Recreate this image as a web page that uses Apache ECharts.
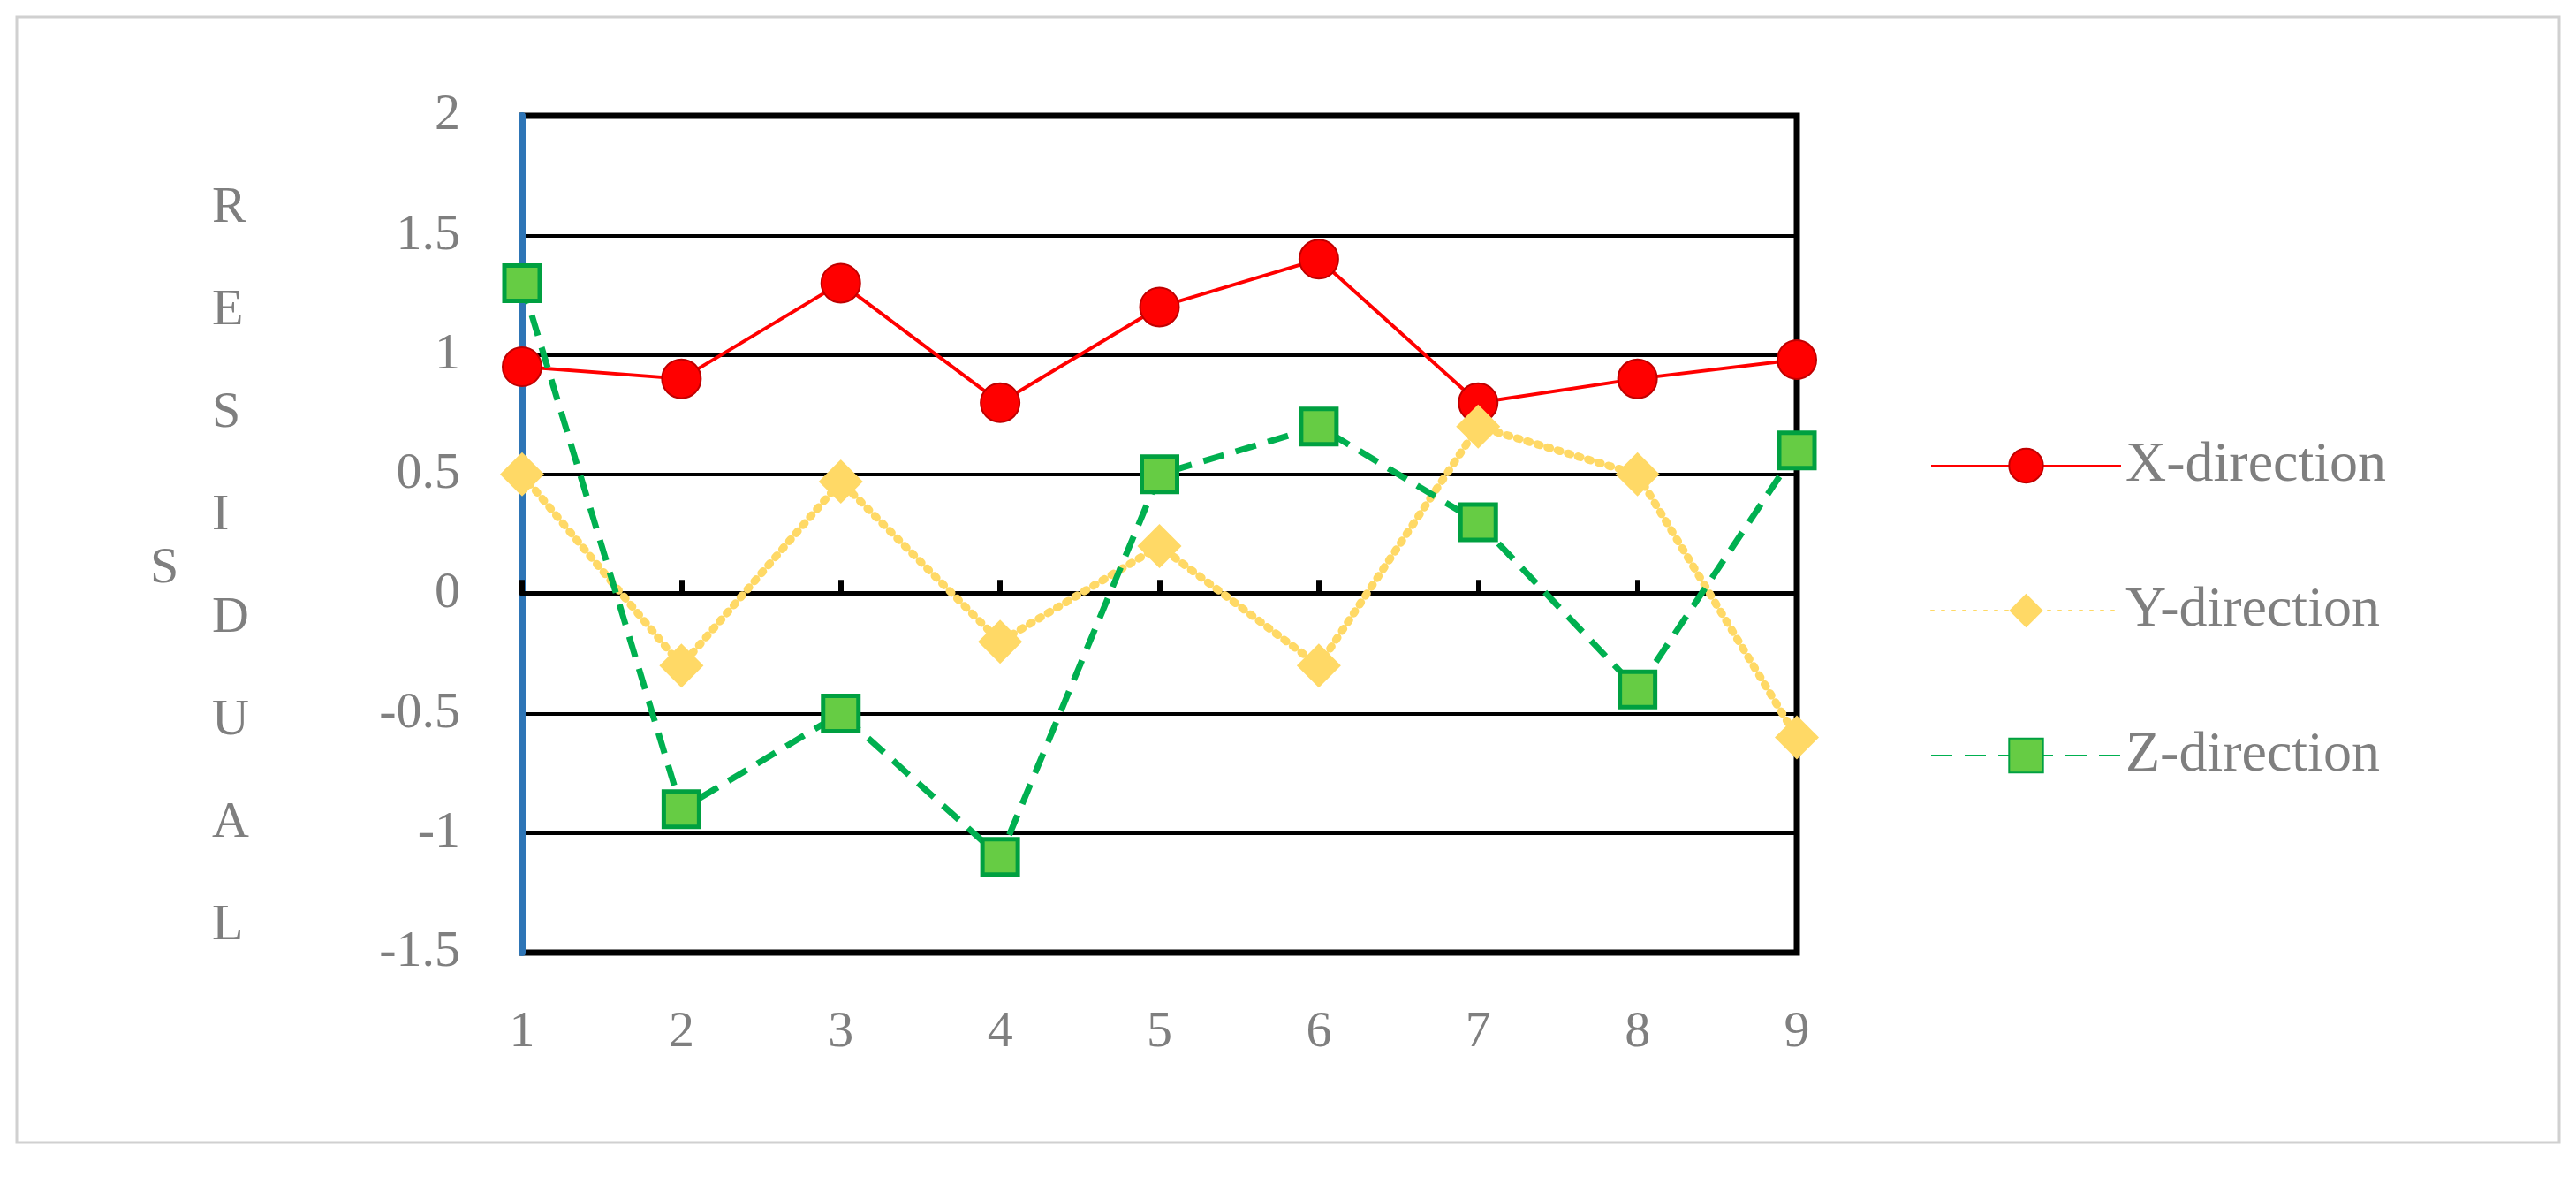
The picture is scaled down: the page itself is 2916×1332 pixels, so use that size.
<!DOCTYPE html>
<html>
<head>
<meta charset="utf-8">
<title>Residuals</title>
<script src="https://cdn.jsdelivr.net/npm/echarts@6/dist/echarts.min.js"></script>
<style>html,body{margin:0;background:#fff}#main{width:2916px;height:1332px}</style>
</head>
<body>
<div id="main"></div>
<script>
const categories = ['1', '2', '3', '4', '5', '6', '7', '8', '9'];
const xDir = [0.95, 0.9, 1.3, 0.8, 1.2, 1.4, 0.8, 0.9, 0.98];
const yDir = [0.5, -0.3, 0.47, -0.2, 0.2, -0.3, 0.7, 0.5, -0.6];
const zDir = [1.3, -0.9, -0.5, -1.1, 0.5, 0.7, 0.3, -0.4, 0.6];

const font = 'Liberation Serif';
const grey = '#7f7f7f';
const chart = echarts.init(document.getElementById('main'));
chart.setOption({
  animation: false,
  textStyle: {fontFamily: font},
  grid: {left: 591, right: 882, top: 131, bottom: 254, show: true,
         borderColor: '#000', borderWidth: 7, containLabel: false, outerBoundsMode: 'none'},
  graphic: [
    {type: 'rect', shape: {x: 19, y: 19, width: 2878, height: 1274},
     style: {fill: 'none', stroke: '#d0d0d0', lineWidth: 3}},
    {type: 'text', left: 240, top: 178,
     style: {text: 'R\nE\nS\nI\nD\nU\nA\nL', font: '58px ' + font, fill: grey,
             lineHeight: 116, align: 'center'}},
    {type: 'text', left: 170, top: 615, style: {text: 'S', font: '58px ' + font, fill: grey}}
  ],
  xAxis: {
    type: 'category', data: categories, boundaryGap: false,
    name: 'ID OF GCPS', nameLocation: 'middle', nameGap: 472,
    nameTextStyle: {fontSize: 62, color: grey, fontFamily: font},
    axisLine: {onZero: true, lineStyle: {color: '#000', width: 6}},
    axisTick: {show: true, inside: true, length: 16, lineStyle: {color: '#000', width: 6}, alignWithLabel: true},
    axisLabel: {fontSize: 58, color: grey, margin: 62, fontFamily: font}
  },
  yAxis: {
    type: 'value', min: -1.5, max: 2, interval: 0.5,
    axisLine: {show: true, lineStyle: {color: '#2e75b6', width: 8}},
    axisTick: {show: false},
    splitLine: {lineStyle: {color: '#000', width: 4}},
    axisLabel: {fontSize: 58, color: grey, margin: 70, fontFamily: font}
  },
  legend: {
    orient: 'vertical', left: 2180, top: 490, itemWidth: 215, itemHeight: 48,
    itemGap: 100, textStyle: {fontSize: 64, color: grey, fontFamily: font},
    data: ['X-direction', 'Y-direction', 'Z-direction']
  },
  series: [
    {name: 'X-direction', type: 'line', data: xDir, symbol: 'circle', symbolSize: 44,
     lineStyle: {color: '#ff0000', width: 4}, itemStyle: {color: '#ff0000', borderColor: '#c00000', borderWidth: 2}},
    {name: 'Y-direction', type: 'line', data: yDir, symbol: 'diamond', symbolSize: 50,
     lineStyle: {color: '#ffd966', width: 9, type: [3, 9], cap: 'round'}, itemStyle: {color: '#ffd966'}},
    {name: 'Z-direction', type: 'line', data: zDir, symbol: 'rect', symbolSize: 40,
     lineStyle: {color: '#00b050', width: 7, type: [24, 14]},
     itemStyle: {color: '#66cc44', borderColor: '#00a040', borderWidth: 5}}
  ]
});
</script>
</body>
</html>
